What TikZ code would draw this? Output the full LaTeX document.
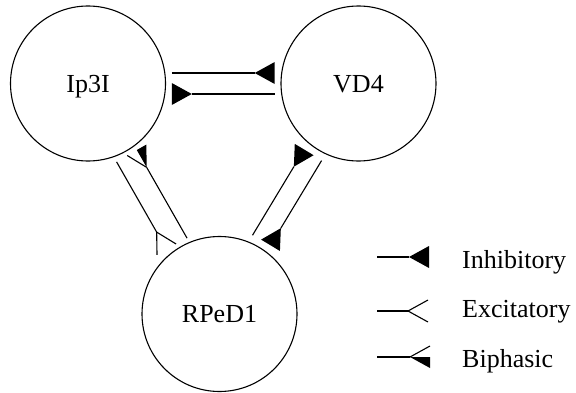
\documentclass[tikz,border=0pt]{standalone}
\usepackage{fontspec}
\setmainfont{Liberation Serif}
\usetikzlibrary{calc,decorations.markings}

% Cells, connectors and the three synapse heads (drawn forward from the line end)
\tikzset{
  cell/.style={draw, circle, minimum size=155pt, inner sep=0pt, line width=1.1pt,
    text height=17pt, text depth=0pt, font=\fontsize{26}{30}\selectfont},
  legtext/.style={anchor=base west, inner sep=0pt, font=\fontsize{26}{30}\selectfont},
  conn/.style={line width=1.1pt},
  inhib/.style={conn, postaction={decorate, decoration={markings,
    mark=at position 1 with {\fill (0,0) -- (20pt,11pt) -- (20pt,-11pt) -- cycle;}}}},
  excit/.style={conn, postaction={decorate, decoration={markings,
    mark=at position 1 with {\draw[conn] (20pt,11pt) -- (0,0) -- (20pt,-11pt);}}}},
  biph/.style={conn, postaction={decorate, decoration={markings,
    mark=at position 1 with {\draw[conn] (0,0) -- (20pt,11pt);
                             \fill (0,0) -- (20pt,0) -- (20pt,-11pt) -- cycle;}}}},
}

% \nlink{from}{to}{side offset}{gap to circle}{head style}
\newcommand\nlink[5]{%
  \pgfmathsetmacro\dstart{sqrt(77.5*77.5-(#3)*(#3))+#4}%
  \pgfmathsetmacro\dstop{\dstart+20}%
  \coordinate (#1-#2-s) at ($(#1.center)!#3pt!90:(#2.center)$);
  \coordinate (#1-#2-e) at ($(#2.center)!#3pt!-90:(#1.center)$);
  \draw[#5] ($(#1-#2-s)!\dstart pt!(#1-#2-e)$) -- ($(#1-#2-e)!\dstop pt!(#1-#2-s)$);
}

\begin{document}
\begin{tikzpicture}[x=1pt,y=1pt]
\useasboundingbox (0,0) rectangle (576,392);

\node[cell] (ip) at (88,308.5) {Ip3I};
\node[cell] (vd) at (358.5,308.5) {VD4};
\node[cell] (rp) at (219.5,78) {RPeD1};

\nlink{ip}{vd}{10.5}{7}{inhib}
\nlink{vd}{ip}{10.5}{7}{inhib}
\nlink{ip}{rp}{-14}{6}{excit}
\nlink{rp}{ip}{-9.4}{5}{biph}
\nlink{rp}{vd}{12.4}{8}{inhib}
\nlink{vd}{rp}{8.2}{8}{inhib}

% key
\coordinate (k1a) at (377,135); \coordinate (k1b) at (409,135);
\coordinate (k2a) at (377,81);  \coordinate (k2b) at (408,81);
\coordinate (k3a) at (377,35);  \coordinate (k3b) at (410,35);
\draw[inhib] (k1a) -- (k1b);
\draw[excit] (k2a) -- (k2b);
\draw[biph]  (k3a) -- (k3b);
\node[legtext] (tinh) at (462,124) {Inhibitory};
\node[legtext] (texc) at (462,74.5) {Excitatory};
\node[legtext] (tbip) at (462,25) {Biphasic};
\end{tikzpicture}
\end{document}
